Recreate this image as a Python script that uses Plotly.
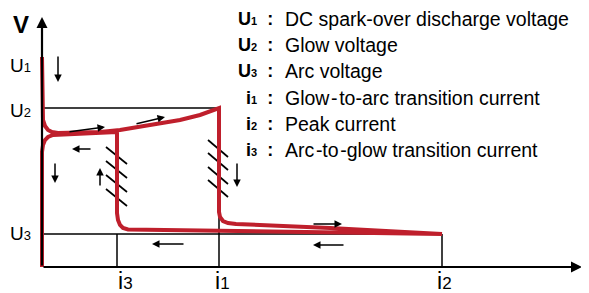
import plotly.graph_objects as go

# ---- conceptual data (current units on x, voltage units on y) ----
U1, U2, U3 = 210, 159, 33          # voltage levels
I3, I1, I2 = 75, 177, 400          # current levels

# red discharge path: glow branch up to i1, drop to arc, out to i2, back to i3, back to glow, off
path_i = [0, 0, 1, 3, 6, 10, 16, 58, 78, 108, 138, 158, 177,
          177, 178, 181, 186, 194, 288, 400,
          258, 86, 81, 78, 76, 75, 75,
          18, 11, 6, 3, 1, 0, 0]
path_u = [210, 155, 147, 141, 137, 135, 134, 135, 137, 142, 147, 152, 159,
          55, 50, 46, 44, 43, 39, 33,
          35, 37.5, 39, 42, 47, 54, 135,
          133, 132, 130, 127, 122, 115, 0]

# direction arrows: (tail_i, tail_u, head_i, head_u)
flow_arrows = [
    (16, 212, 16, 185),
    (26, 135, 63, 140),
    (93, 143, 123, 150),
    (50, 118, 30, 118),
    (13, 105, 13, 84),
    (58, 80, 58, 99),
    (195, 105, 195, 80),
    (270, 43, 300, 43),
    (303, 22, 271, 22),
    (143, 23, 110, 23),
]

# unstable transition zones (hatching): start voltages of each stroke
hatch_i3_u = [120, 106, 92, 78]
hatch_i1_u = [127, 114, 100, 87]

legend_keys = [("U", "1"), ("U", "2"), ("U", "3"), ("i", "1"), ("i", "2"), ("i", "3")]
legend_text = ["DC spark-over discharge voltage", "Glow voltage", "Arc voltage",
               "Glow\u200a-\u200ato-arc transition current", "Peak current",
               "Arc\u200a-to\u200a-glow transition current"]

RED = "#BF1F2C"
FONT = "Arial, 'Liberation Sans', sans-serif"

fig = go.Figure()

# reference lines
ref = dict(color="black", width=1.5)
fig.add_trace(go.Scatter(x=[0, I1], y=[U2, U2], mode="lines", line=ref))
fig.add_trace(go.Scatter(x=[0, I2], y=[U3, U3], mode="lines", line=ref))
fig.add_trace(go.Scatter(x=[I3, I3], y=[0, U3], mode="lines", line=ref))
fig.add_trace(go.Scatter(x=[I1, I1], y=[0, U2], mode="lines", line=ref))
fig.add_trace(go.Scatter(x=[I2, I2], y=[0, U3], mode="lines", line=ref))

# hatching
hx, hy = [], []
for u in hatch_i3_u:
    hx += [I3 - 11, I3 + 10, None]
    hy += [u, u - 17, None]
for u in hatch_i1_u:
    hx += [I1 - 11, I1 + 9, None]
    hy += [u, u - 17, None]
fig.add_trace(go.Scatter(x=hx, y=hy, mode="lines", line=dict(color="black", width=1.7)))

# red path
fig.add_trace(go.Scatter(x=path_i, y=path_u, mode="lines",
                         line=dict(color=RED, width=4)))

ann = []
# axes with arrows
ann.append(dict(x=540, y=0, ax=0, ay=0, xref="x", yref="y", axref="x", ayref="y",
                showarrow=True, arrowhead=2, arrowsize=1, arrowwidth=2.2,
                arrowcolor="black", text=""))
ann.append(dict(x=0, y=250, ax=0, ay=0, xref="x", yref="y", axref="x", ayref="y",
                showarrow=True, arrowhead=2, arrowsize=1, arrowwidth=2.2,
                arrowcolor="black", text=""))
for tx, ty, hx_, hy_ in flow_arrows:
    ann.append(dict(x=hx_, y=hy_, ax=tx, ay=ty, xref="x", yref="y", axref="x", ayref="y",
                    showarrow=True, arrowhead=2, arrowsize=1.0, arrowwidth=1.5,
                    arrowcolor="black", text=""))

# axis label
ann.append(dict(x=-21, y=243, xref="x", yref="y", showarrow=False, text="<b>V</b>",
                font=dict(family=FONT, size=24, color="black")))
# voltage labels
for lvl, sub, yy in [(U1, "1", 202), (U2, "2", 157), (U3, "3", 34)]:
    ann.append(dict(x=-9, y=yy, xref="x", yref="y", xanchor="right", yanchor="middle",
                    showarrow=False,
                    text=f"U<span style='font-size:13px'>{sub}</span>",
                    font=dict(family=FONT, size=19, color="black")))
# current labels
for xx, sub in [(I3 - 1, "3"), (I1 - 6, "1"), (I2 - 7, "2")]:
    ann.append(dict(x=xx, y=-14, xref="x", yref="y", xanchor="left", yanchor="middle",
                    showarrow=False,
                    text=f"<span style='font-size:23px'>i</span>{sub}",
                    font=dict(family=FONT, size=17, color="black")))

# legend block
for k, ((sym, sub), desc) in enumerate(zip(legend_keys, legend_text)):
    yy = 248 - 26.2 * k
    ann.append(dict(x=233, y=yy, xref="x", yref="y", xanchor="right", yanchor="middle",
                    showarrow=False,
                    text=f"<b>{sym}<span style='font-size:11px'>{sub}</span>\u00a0\u00a0:</b>",
                    font=dict(family=FONT, size=18, color="black")))
    ann.append(dict(x=241, y=yy, xref="x", yref="y", xanchor="left", yanchor="middle",
                    showarrow=False, text=desc,
                    font=dict(family=FONT, size=19.5, color="black")))

# page body has an 8px margin: the figure is offset accordingly
fig.update_layout(
    width=581, height=285, autosize=False,
    margin=dict(l=0, r=0, t=0, b=0),
    paper_bgcolor="white", plot_bgcolor="white",
    showlegend=False,
    xaxis=dict(range=[-34, 547], visible=False, fixedrange=True),
    yaxis=dict(range=[-26, 259], visible=False, fixedrange=True),
    annotations=ann,
)

fig.write_html("out.html")
